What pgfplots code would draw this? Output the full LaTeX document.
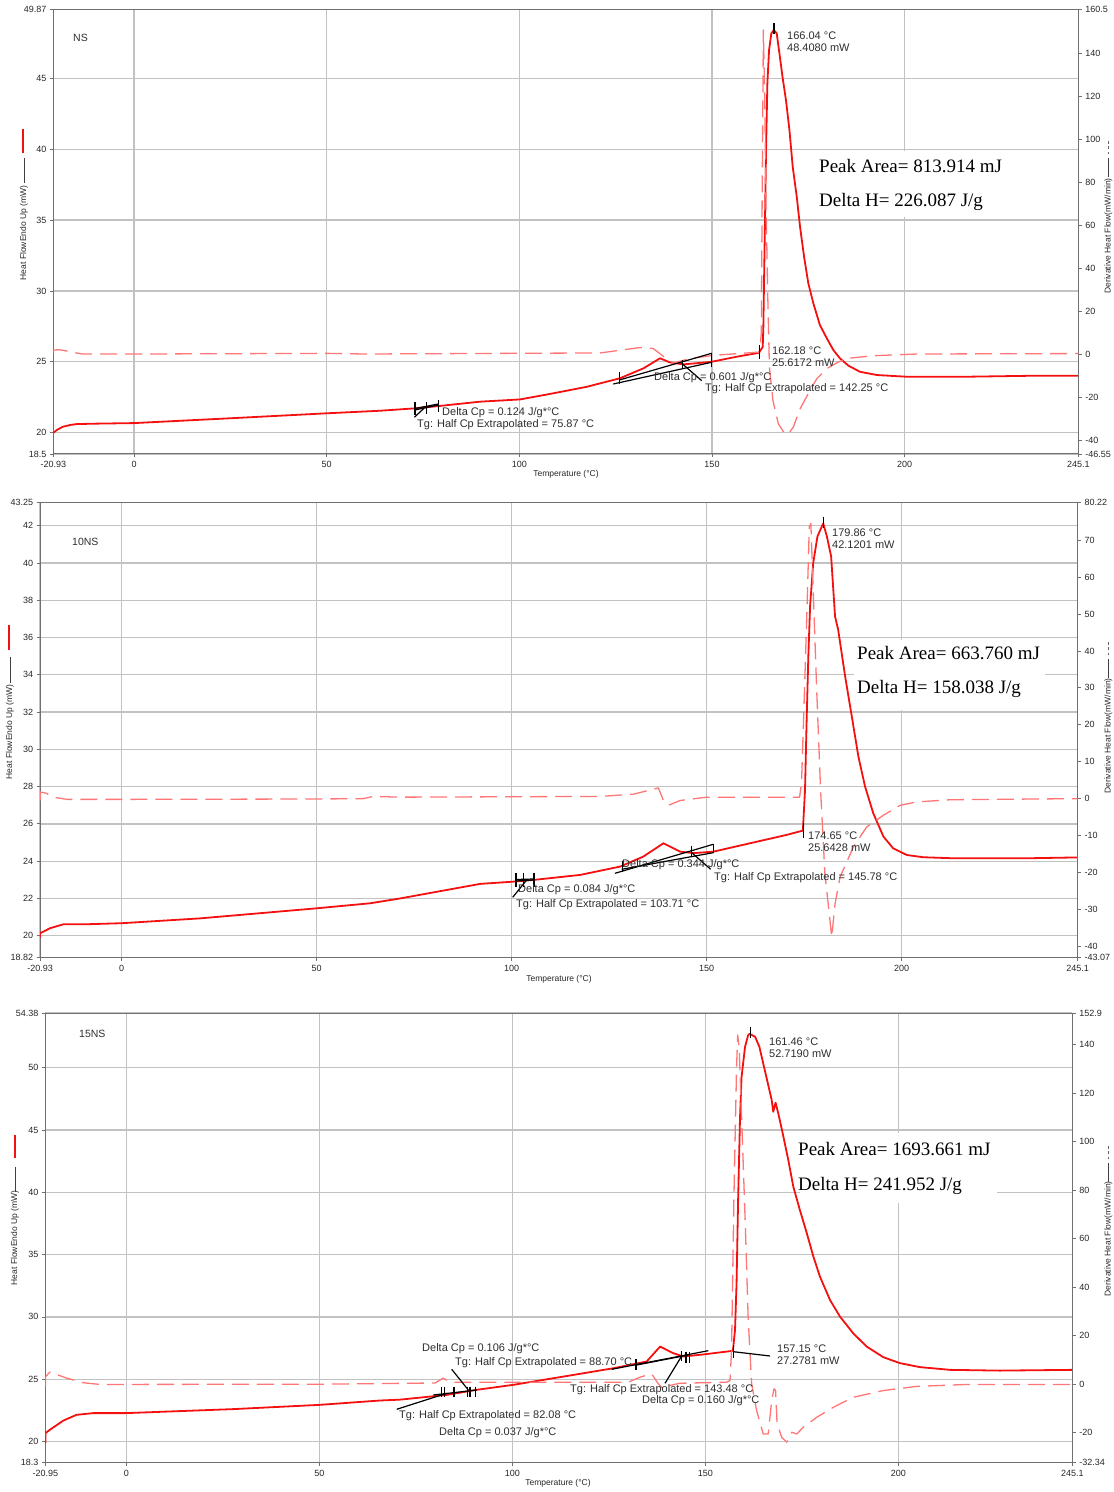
\documentclass[border=0pt]{standalone}
\usepackage{fontspec}
\setmainfont{Liberation Sans}
\newfontfamily\tnr{Liberation Serif}
\usepackage{pgfplots}
\pgfplotsset{compat=1.18}
\definecolor{gridc}{HTML}{C2C2C2}
\definecolor{spine}{HTML}{707070}
\definecolor{curve}{HTML}{F51010}
\definecolor{dcurve}{HTML}{FF7676}
\definecolor{ann}{HTML}{2E2E2E}
\pgfplotsset{
  dsc/.style={scale only axis, anchor=south west,
    axis line style={spine, line width=1pt},
    tick style={spine, line width=0.8pt}, major tick length=3.5pt, tick align=outside,
    ticklabel style={font=\fontsize{9}{10}\selectfont, text=black!85},
    /pgf/number format/assume math mode=true},
  leftax/.style={dsc, grid=major, grid style={gridc, line width=1.3pt},
    xtick pos=left, ytick pos=left},
  rightax/.style={dsc, axis x line=none, axis y line*=right, ytick pos=right,
    xtick=\empty, yticklabel style={anchor=west}},
  heat/.style={curve, line width=1.8pt, no marks, line join=round},
  deriv/.style={dcurve, line width=1.3pt, no marks, dash pattern=on 17pt off 8pt, line join=round},
}
\begin{document}
\begin{tikzpicture}
\path[use as bounding box] (0,0) rectangle (1114pt,1492pt);

% ================= Panel 1 : NS =================
\begin{axis}[leftax, at={(53.4pt,1038pt)}, width=1025pt, height=444.7pt,
  xmin=-20.93, xmax=245.1,
  xtick={-20.93,0,50,100,150,200,245.1}, xticklabels={-20.93,0,50,100,150,200,245.1},
  ymin=18.5, ymax=49.87,
  ytick={18.5,20,25,30,35,40,45,49.87}, yticklabels={18.5,20,25,30,35,40,45,49.87}]
\fill[white] (axis cs:176.0,39.87) rectangle (axis cs:225.5,35.21);
\addplot[heat] table {
-20.93 20.0
-20.0 20.2
-18.5 20.42
-16.5 20.55
-14.9 20.61
-10 20.64
0 20.68
25 21.02
50 21.37
63.8 21.55
72.9 21.72
79.0 21.88
89.8 22.19
100.2 22.35
108.8 22.78
117.5 23.24
126.1 23.84
132.2 24.54
136.5 25.25
139.1 24.96
142.6 24.82
149.8 25.0
156.4 25.36
162.2 25.64
163.17 26.06
163.33 27.48
163.5 30.54
163.77 35.23
164.03 39.94
164.37 44.64
164.81 46.99
165.4 48.17
166.04 48.41
166.8 48.17
167.5 46.76
168.36 44.99
169.2 43.46
170.1 41.35
170.95 38.76
172.0 36.64
172.85 34.53
173.9 32.41
175.0 30.54
176.3 29.13
178.0 27.6
179.8 26.66
181.5 25.83
183.2 25.25
185.4 24.73
188.4 24.30
192.8 24.07
200.5 23.95
216.1 23.95
233.4 24.02
245.1 24.02
};
\end{axis}
\begin{axis}[rightax, at={(53.4pt,1038pt)}, width=1025pt, height=444.7pt,
  xmin=-20.93, xmax=245.1, ymin=-46.55, ymax=160.5,
  ytick={-46.55,-40,-20,0,20,40,60,80,100,120,140,160.5},
  yticklabels={-46.55,-40,-20,0,20,40,60,80,100,120,140,160.5}]
\addplot[deriv] table {
-20.93 0.5
-20.93 1.8
-19.5 2.0
-17.5 1.4
-15 0.5
-13.3 0.0
0 0.0
50 0.3
60 0.0
121 0.5
131.3 3.0
134.7 2.6
137.4 -1.1
140 -4.2
144.3 -2.1
150.6 -0.6
162.3 0.9
162.8 9.5
163.07 87
163.33 150.9
163.7 118
164.0 71.5
164.5 25
164.9 -6
165.8 -21.5
167.2 -32.4
168.7 -36.7
169.8 -37.3
171.1 -34
172.9 -25.4
175.0 -18.4
177.2 -11.5
179.8 -6.8
182.8 -3.7
185.8 -1.9
191.9 -0.8
203.1 0
245.1 0.2
};
\end{axis}

% ================= Panel 2 : 10NS =================
\begin{axis}[leftax, at={(40.1pt,534.3pt)}, width=1037.5pt, height=455.3pt,
  xmin=-20.93, xmax=245.1,
  xtick={-20.93,0,50,100,150,200,245.1}, xticklabels={-20.93,0,50,100,150,200,245.1},
  ymin=18.82, ymax=43.25,
  ytick={18.82,20,22,24,26,28,30,32,34,36,38,40,42,43.25},
  yticklabels={18.82,20,22,24,26,28,30,32,34,36,38,40,42,43.25}]
\fill[white] (axis cs:187.7,35.88) rectangle (axis cs:236.7,32.12);
\addplot[heat] table {
-20.93 19.9
-20.93 20.13
-18.4 20.4
-15.0 20.61
-8.1 20.62
0 20.67
20.1 20.93
50 21.47
63.7 21.74
71.4 22.0
91.9 22.78
100.4 22.90
105.5 22.99
117.5 23.26
127.8 23.71
133.7 24.24
138.9 24.96
143.2 24.51
146.6 24.43
151.7 24.51
161.1 24.96
170.5 25.41
174.65 25.64
175.2 27.8
175.6 31.4
176.05 34.98
176.5 37.67
177.3 40.0
178.4 41.43
179.86 42.12
180.8 41.43
181.9 40.35
182.9 37.13
183.7 36.42
185.5 33.9
187.2 31.76
188.9 29.6
190.6 28.0
192.7 26.57
195.3 25.32
197.8 24.69
201.3 24.33
205.5 24.21
212.4 24.16
233.7 24.16
245.1 24.2
};
\end{axis}
\begin{axis}[rightax, at={(40.1pt,534.3pt)}, width=1037.5pt, height=455.3pt,
  xmin=-20.93, xmax=245.1, ymin=-43.07, ymax=80.22,
  ytick={-43.07,-40,-30,-20,-10,0,10,20,30,40,50,60,70,80.22},
  yticklabels={-43.07,-40,-30,-20,-10,0,10,20,30,40,50,60,70,80.22}]
\addplot[deriv] table {
-20.93 -0.5
-20.93 1.8
-19.5 1.5
-17 0.3
-14 -0.2
0 -0.2
50 -0.1
62 0.0
64.5 0.6
71.4 0.4
122.6 0.6
131.2 1.2
137.6 2.9
138.9 -0.5
140.2 -1.8
143.2 -0.5
150 0.4
173.8 0.4
174.3 4.1
174.8 20.3
175.6 47.4
176.3 73.6
176.7 74.5
177.3 56.4
178.2 29.3
179.2 2.2
180.3 -20.3
181.6 -33
182.05 -37.5
182.9 -28.5
184.2 -21.2
187.6 -13.1
191.0 -7.7
195.3 -4.5
199.6 -1.8
203.8 -0.9
212.4 -0.3
245.1 0.0
};
\end{axis}

% ================= Panel 3 : 15NS =================
\begin{axis}[leftax, at={(45.4pt,29.3pt)}, width=1027pt, height=449.6pt,
  xmin=-20.95, xmax=245.1,
  xtick={-20.95,0,50,100,150,200,245.1}, xticklabels={-20.95,0,50,100,150,200,245.1},
  ymin=18.3, ymax=54.38,
  ytick={18.3,20,25,30,35,40,45,50,54.38},
  yticklabels={18.3,20,25,30,35,40,45,50,54.38}]
\fill[white] (axis cs:174.5,44.76) rectangle (axis cs:225.5,39.14);
\addplot[heat] table {
-20.95 19.87
-20.95 20.67
-19.8 20.94
-16.3 21.68
-12.9 22.14
-8.5 22.28
0 22.28
27.7 22.6
50 22.94
65.7 23.29
70.9 23.36
83.0 23.74
90.8 24.15
100.3 24.55
113.2 25.21
126.2 25.88
134.8 26.42
138.3 27.62
141.7 27.09
144.3 26.82
149.9 27.0
157.15 27.28
157.7 28.96
158.1 32.7
158.5 39.38
159.0 46.06
159.4 49.27
160.3 51.68
161.1 52.61
161.46 52.72
162.9 52.48
164.0 51.68
165.0 50.35
166.2 48.74
167.2 47.4
167.6 46.46
168.2 47.19
168.9 46.34
170.05 44.73
171.5 42.59
172.8 40.45
174.5 38.58
176.3 36.71
178.0 34.84
179.7 33.23
182.3 31.36
184.9 30.02
188.3 28.69
191.8 27.62
196.1 26.77
200.4 26.29
205.6 25.97
213.4 25.75
226.3 25.69
245.1 25.75
};
\end{axis}
\begin{axis}[rightax, at={(45.4pt,29.3pt)}, width=1027pt, height=449.6pt,
  xmin=-20.95, xmax=245.1, ymin=-32.34, ymax=152.9,
  ytick={-32.34,-20,0,20,40,60,80,100,120,140,152.9},
  yticklabels={-32.34,-20,0,20,40,60,80,100,120,140,152.9}]
\addplot[deriv] table {
-20.95 -1.0
-20.95 3.0
-19.8 5.0
-15.4 2.5
-11.1 0.6
-6.8 -0.1
50 0.0
80 0.5
82.1 2.5
84 0.8
130 0.8
133.1 2.9
136.1 4.3
137.8 0.2
139.1 -1.9
140.9 -0.5
143.4 0.4
155.5 0.8
156.4 1.5
156.8 13.9
157.4 75.8
158.1 130.8
158.4 143.9
158.8 137.7
159.4 110.1
160.3 68.9
161.1 27.6
162.0 0.2
163.3 -10.9
165.0 -20.5
166.3 -20.5
167.2 -6.7
167.8 -1.9
168.2 -2.5
168.6 -16.3
169.8 -21.9
171.1 -23.9
172.4 -19.8
173.7 -20.5
175.4 -17.7
178.9 -13.6
183.2 -9.5
188.3 -5.4
196.1 -2.6
204.8 -0.9
217.7 -0.1
245.1 -0.1
};
\end{axis}

% ================= annotations in image pixel coordinates =================
\begin{scope}[x=1pt,y=-1pt,yshift=1492pt,
  annl/.style={black, line width=1.2pt},
  an/.style={anchor=west, inner sep=0pt, text=ann, font=\fontsize{11}{12}\selectfont},
  pk/.style={anchor=west, inner sep=0pt, text=black, font=\tnr\fontsize{19}{21}\selectfont},
  lab/.style={inner sep=0pt, text=black!85, font=\fontsize{8.5}{10}\selectfont},
  lstub/.style={black!75, line width=0.8pt},
  dstub/.style={black!60, line width=0.8pt, dash pattern=on 3pt off 2.5pt}]
% ---- panel 1
\node[an, font=\fontsize{10.5}{12}\selectfont] at (73,38) {NS};
\draw[annl] (774,23.3) -- (774,34);
\node[an] at (787,36) {166.04 °C};
\node[an] at (787,47.5) {48.4080 mW};
\draw[annl] (759.3,345) -- (759.3,359.3);
\node[an] at (772,351) {162.18 °C};
\node[an] at (772,363) {25.6172 mW};
\draw[annl] (619.3,380) -- (711.7,353.3);
\draw[annl] (613.3,384) -- (711.7,362.3);
\draw[annl] (619.7,371.7) -- (619.7,384);
\draw[annl] (711.7,352.7) -- (711.7,367.3);
\draw[annl] (682.7,360) -- (682.7,369.3);
\draw[annl] (681.7,363.3) -- (701.7,380.7);
\node[an] at (654,378) {Delta Cp = 0.601 J/g*°C};
\node[an] at (705,388.5) {Tg: Half Cp Extrapolated = 142.25 °C};
\draw[annl] (415,401.7) -- (415,415);
\draw[annl] (426.7,402) -- (426.7,414);
\draw[annl] (438.3,400) -- (438.3,412);
\draw[annl] (415,410) -- (438.3,405);
\draw[annl] (415,408.5) -- (438.3,404);
\draw[annl] (414.3,417.3) -- (424,408.3);
\node[an] at (442,412.5) {Delta Cp = 0.124 J/g*°C};
\node[an] at (417,424.5) {Tg: Half Cp Extrapolated = 75.87 °C};
\node[pk] at (819,166) {Peak Area= 813.914 mJ};
\node[pk] at (819,202) {Delta H= 226.087 J/g};
\node[lab] at (566,474) {Temperature (°C)};
\node[lab, rotate=90] at (24,233) {Heat FlowEndo Up (mW)};
\draw[lstub] (24,158) -- (24,183);
\draw[curve, line width=2pt] (23,129) -- (23,153);
\node[lab, rotate=90] at (1108.3,236) {Derivative Heat Flow(mW/min)};
\draw[lstub] (1108.3,158) -- (1108.3,177);
\draw[dstub] (1108.3,141) -- (1108.3,154);
% ---- panel 2
\node[an, font=\fontsize{10.5}{12}\selectfont] at (72,542) {10NS};
\draw[annl] (823.3,516.7) -- (823.3,528.3);
\node[an] at (832,533) {179.86 °C};
\node[an] at (832,545) {42.1201 mW};
\draw[annl] (803.3,823.3) -- (803.3,838.3);
\node[an] at (808,836) {174.65 °C};
\node[an] at (808,848) {25.6428 mW};
\draw[annl] (615,873.3) -- (713.3,844.3);
\draw[annl] (621.7,869.3) -- (713.3,852.7);
\draw[annl] (622.7,860.7) -- (622.7,871.7);
\draw[annl] (713.3,844.3) -- (713.3,853.3);
\draw[annl] (691.7,846) -- (691.7,856);
\draw[annl] (691.7,852.7) -- (710.7,869.3);
\node[an] at (622,865) {Delta Cp = 0.344 J/g*°C};
\node[an] at (714,878) {Tg: Half Cp Extrapolated = 145.78 °C};
\draw[annl] (516,873.3) -- (516,886.7);
\draw[annl] (523.3,873.3) -- (523.3,886.7);
\draw[annl] (534,873.3) -- (534,886.7);
\draw[annl] (516,881) -- (534,880);
\draw[annl] (516,879.5) -- (534,879);
\draw[annl] (512.7,897.3) -- (526.7,880);
\node[an] at (518,890) {Delta Cp = 0.084 J/g*°C};
\node[an] at (516,905) {Tg: Half Cp Extrapolated = 103.71 °C};
\node[pk] at (857,653) {Peak Area= 663.760 mJ};
\node[pk] at (857,689) {Delta H= 158.038 J/g};
\node[lab] at (559,979) {Temperature (°C)};
\node[lab, rotate=90] at (10,732) {Heat FlowEndo Up (mW)};
\draw[lstub] (10,657) -- (10,683);
\draw[curve, line width=2pt] (9.3,625) -- (9.3,650);
\node[lab, rotate=90] at (1108.3,736) {Derivative Heat Flow(mW/min)};
\draw[lstub] (1108.3,659) -- (1108.3,678);
\draw[dstub] (1108.3,642) -- (1108.3,655);
% ---- panel 3
\node[an, font=\fontsize{10.5}{12}\selectfont] at (79,1034) {15NS};
\draw[annl] (750.7,1026.7) -- (750.7,1038.3);
\node[an] at (769,1042) {161.46 °C};
\node[an] at (769,1053.5) {52.7190 mW};
\draw[annl] (733.3,1345) -- (733.3,1358.3);
\draw[annl] (733.3,1351.7) -- (770,1356);
\node[an] at (777,1349) {157.15 °C};
\node[an] at (777,1361) {27.2781 mW};
\draw[annl] (611.7,1369.3) -- (708.3,1350.7);
\draw[annl] (636.7,1365) -- (688.3,1355);
\draw[annl] (636,1359.3) -- (636,1370);
\draw[annl] (681.7,1350.7) -- (681.7,1360.7);
\draw[annl] (686,1351.7) -- (686,1362.7);
\draw[annl] (689.3,1351.7) -- (689.3,1362.7);
\draw[annl] (681.7,1356) -- (665,1383.3);
\node[an] at (570,1390) {Tg: Half Cp Extrapolated = 143.48 °C};
\node[an] at (642,1400.5) {Delta Cp = 0.160 J/g*°C};
\draw[annl] (441.7,1386.7) -- (441.7,1397.3);
\draw[annl] (444.3,1386.7) -- (444.3,1397.3);
\draw[annl] (454,1386.7) -- (454,1397.3);
\draw[annl] (467.3,1386.7) -- (467.3,1397.3);
\draw[annl] (470,1386.7) -- (470,1397.3);
\draw[annl] (475.7,1386.7) -- (475.7,1397.3);
\draw[annl] (433.3,1395) -- (476.7,1390);
\draw[annl] (396.7,1409.3) -- (446.7,1393.3);
\draw[annl] (451.7,1369.3) -- (468.3,1390);
\node[an] at (422,1349) {Delta Cp = 0.106 J/g*°C};
\node[an] at (455,1363) {Tg: Half Cp Extrapolated = 88.70 °C};
\node[an] at (399,1416) {Tg: Half Cp Extrapolated = 82.08 °C};
\node[an] at (439,1433) {Delta Cp = 0.037 J/g*°C};
\node[pk] at (798,1149) {Peak Area= 1693.661 mJ};
\node[pk] at (798,1186) {Delta H= 241.952 J/g};
\node[lab] at (558,1483) {Temperature (°C)};
\node[lab, rotate=90] at (15,1238) {Heat FlowEndo Up (mW)};
\draw[lstub] (15,1167) -- (15,1192);
\draw[curve, line width=2pt] (15,1135) -- (15,1158);
\node[lab, rotate=90] at (1108.3,1239) {Derivative Heat Flow(mW/min)};
\draw[lstub] (1108.3,1163) -- (1108.3,1182);
\draw[dstub] (1108.3,1146) -- (1108.3,1159);
\end{scope}
\end{tikzpicture}
\end{document}
